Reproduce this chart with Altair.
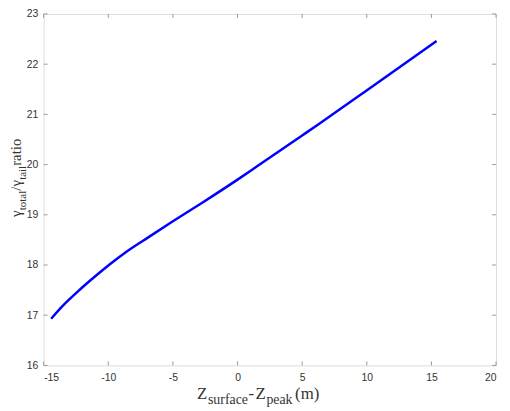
import altair as alt
import pandas as pd

# ---- data ----
z_diff = [-14.42, -13.47, -12.45, -11.17, -9.90, -8.62, -6.85, -5.0, -2.67, 0.0, 1.54, 5.0, 6.13, 9.96, 15.40]
ratio = [16.93, 17.20, 17.45, 17.74, 18.01, 18.26, 18.56, 18.87, 19.25, 19.70, 19.97, 20.58, 20.78, 21.47, 22.46]
x_ticks = [-15, -10, -5, 0, 5, 10, 15, 20]
y_ticks = [16, 17, 18, 19, 20, 21, 22, 23]

W, H = 457, 355
AX = "#9a9a9a"
LBL = "#333333"
SANS = "Liberation Sans"
SERIF = "Liberation Serif"
TL = 4

df = pd.DataFrame({"x": z_diff, "y": ratio})
xt = pd.DataFrame({"x": x_ticks})
yt = pd.DataFrame({"y": y_ticks})

xs = alt.Scale(domain=[-15, 20], nice=False, zero=False)
ys = alt.Scale(domain=[16, 23], nice=False, zero=False)
xa = alt.Axis(values=x_ticks, title=None, ticks=False, tickSize=0, domain=False, grid=False,
              labelPadding=7, labelFont=SANS, labelFontSize=10.5, labelColor=LBL,
              labelExpr="toString(datum.value)")
ya = alt.Axis(values=y_ticks, title=None, ticks=False, tickSize=0, domain=False, grid=False,
              labelPadding=6, labelFont=SANS, labelFontSize=10.5, labelColor=LBL,
              labelExpr="toString(datum.value)")

line = alt.Chart(df).mark_line(color="#0000ff", strokeWidth=2.5, interpolate="monotone").encode(
    x=alt.X("x:Q", scale=xs, axis=xa),
    y=alt.Y("y:Q", scale=ys, axis=ya),
)

tb = alt.Chart(xt).mark_rule(color=AX, strokeWidth=1).encode(
    x=alt.X("x:Q", scale=xs, axis=xa), y=alt.value(H), y2=alt.value(H - TL))
tt = alt.Chart(xt).mark_rule(color=AX, strokeWidth=1).encode(
    x=alt.X("x:Q", scale=xs, axis=xa), y=alt.value(0), y2=alt.value(TL))
tlft = alt.Chart(yt).mark_rule(color=AX, strokeWidth=1).encode(
    y=alt.Y("y:Q", scale=ys, axis=ya), x=alt.value(0), x2=alt.value(TL))
trgt = alt.Chart(yt).mark_rule(color=AX, strokeWidth=1).encode(
    y=alt.Y("y:Q", scale=ys, axis=ya), x=alt.value(W), x2=alt.value(W - TL))

def txt(s, x, y, size, angle=0):
    return alt.Chart(pd.DataFrame({"a": [0]})).mark_text(
        text=s, font=SERIF, fontSize=size, color=LBL, align="left",
        baseline="alphabetic", angle=angle).encode(x=alt.value(x), y=alt.value(y))

MX, SX = 17, 14
XB, XS = 388.7, 393.7
xtitle = [
    txt("Z", 155, XB, MX),
    txt("surface", 166, XS, SX),
    txt("-", 207, XB, MX),
    txt("Z", 214, XB, MX),
    txt("peak", 225, XS, SX),
    txt("(m)", 254, XB, MX),
]

MY, SY = 15, 11
YB, YS = -22.5, -17.5
ytitle = [
    txt("γ", YB, 205, MY, 270),
    txt("total", YS, 198.2, SY, 270),
    txt("/", YB, 178.5, MY, 270),
    txt("γ", YB, 174.3, MY, 270),
    txt("tail", YS, 167.5, SY, 270),
    txt(" ratio", YB, 153.4, MY, 270),
]

chart = alt.layer(line, tb, tt, tlft, trgt, *xtitle, *ytitle).properties(
    width=W, height=H,
    autosize=alt.AutoSizeParams(type="none"),
    padding={"left": 36, "top": 4, "right": 6, "bottom": 40},
).configure_view(stroke=AX, strokeWidth=1).configure(background="white")

chart.save("out.html", embed_options={"renderer": "svg", "actions": False})
